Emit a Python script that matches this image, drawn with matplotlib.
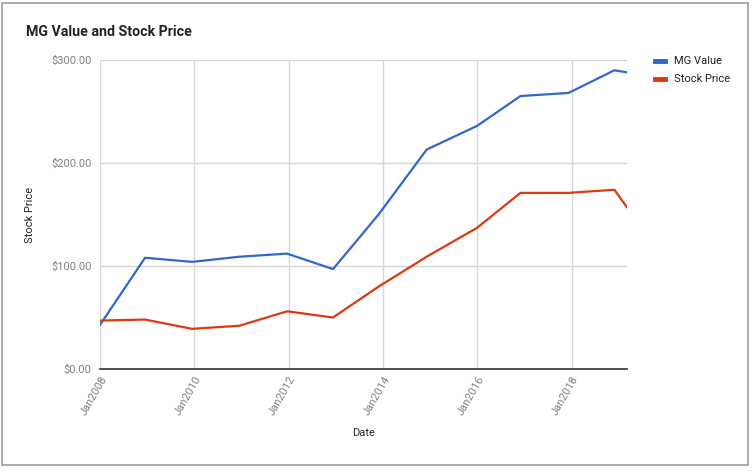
import matplotlib.pyplot as plt
import pandas as pd
from matplotlib.patches import Rectangle

# MG value vs stock price (yearly points)
dates = pd.to_datetime([
    '2008-01-02', '2008-12-15', '2009-12-15', '2010-12-15', '2011-12-20',
    '2012-12-10', '2013-11-28', '2014-12-05', '2015-12-30', '2016-12-01',
    '2017-12-08', '2018-11-28', '2019-03-06'])
mg_value = [43, 108, 104, 109, 112, 97, 150, 213, 236, 265, 268, 290, 288]
stock_price = [47, 48, 39, 42, 56, 50, 80, 109, 137, 171, 171, 174, 157]
tick_years = [2008, 2010, 2012, 2014, 2016, 2018]
y_ticks = [0, 100, 200, 300]

plt.rcParams['font.family'] = ['Roboto', 'DejaVu Sans']

W, H = 753, 471
fig = plt.figure(figsize=(W / 100, H / 100), dpi=100)
ax = fig.add_axes([100 / W, (H - 369) / H, (627 - 100) / W, (369 - 60) / H])

ax.plot(dates, mg_value, color='#3366cc', lw=1.6, label='MG Value')
ax.plot(dates, stock_price, color='#dc3912', lw=1.6, label='Stock Price')

ax.set_ylim(0, 300)
ax.set_xlim(pd.Timestamp('2008-01-01'), pd.Timestamp('2019-03-06'))
ax.set_yticks(y_ticks)
ax.yaxis.set_major_formatter(plt.FuncFormatter(lambda v, p: f'${v:,.2f}'))
xt = [pd.Timestamp(f'{y}-01-01') for y in tick_years]
ax.set_xticks(xt)
ax.set_xticklabels([f'Jan{y}' for y in tick_years], rotation=60, ha='right',
                   rotation_mode='anchor')
ax.tick_params(axis='both', length=0, labelsize=8, labelcolor='#808080')
ax.tick_params(axis='y', pad=6)
ax.tick_params(axis='x', pad=4)
ax.grid(True, color='#d6d6d6', lw=1)
ax.set_axisbelow(True)
for s in ['top', 'right', 'left']:
    ax.spines[s].set_visible(False)
ax.spines['bottom'].set_color('#333333')
ax.spines['bottom'].set_linewidth(1.2)
ax.spines['bottom'].set_zorder(3)

ax.set_ylabel('Stock Price', fontsize=8, color='#222222', labelpad=12)
ax.set_xlabel('Date', fontsize=8, color='#222222', labelpad=8)

fig.text(26 / W, 1 - 32 / H, 'MG Value and Stock Price', fontsize=10.2,
         fontweight='bold', color='#222222', va='center')

leg = ax.legend(loc='upper left', bbox_to_anchor=(1.035, 1.045), frameon=False,
                fontsize=8, handlelength=0.9, handleheight=0.5,
                labelspacing=0.75, handletextpad=0.8)
for h in leg.get_lines():
    h.set_linewidth(3.5)
for t in leg.get_texts():
    t.set_color('#222222')

# outer sheet border
fig.patches.append(Rectangle((2 / W, 1 - 465 / H), 746 / W, 462 / H,
                             transform=fig.transFigure, fill=False,
                             ec='#9e9e9e', lw=1.2))

fig.savefig('out.png', dpi=100)
